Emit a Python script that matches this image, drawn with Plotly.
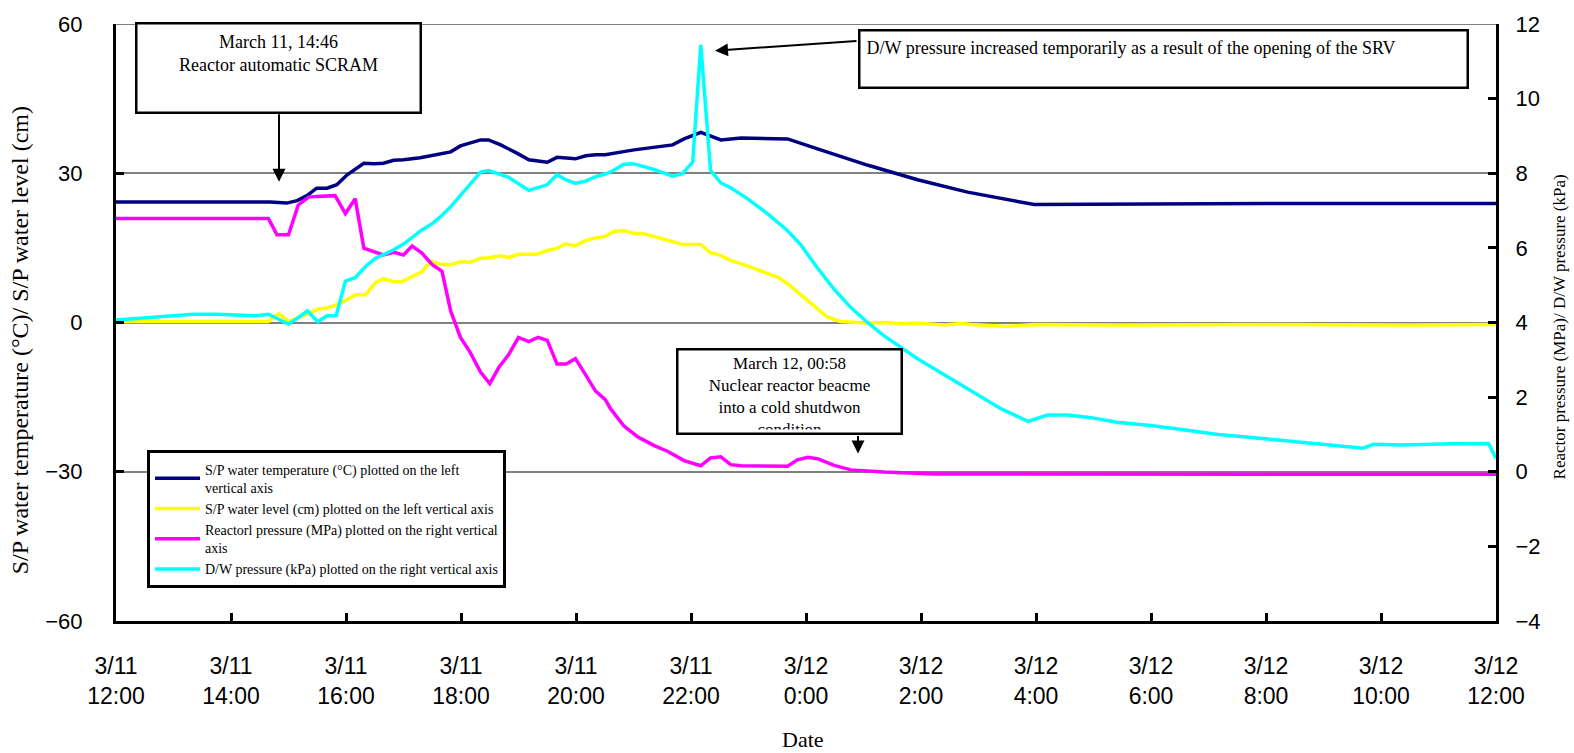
import plotly.graph_objects as go

# ---- time axis: hours after 3/11 12:00 ----
tick_hours = [0, 2, 4, 6, 8, 10, 12, 14, 16, 18, 20, 22, 24]
tick_labels = ["3/11<br>12:00", "3/11<br>14:00", "3/11<br>16:00", "3/11<br>18:00",
               "3/11<br>20:00", "3/11<br>22:00", "3/12<br>0:00", "3/12<br>2:00",
               "3/12<br>4:00", "3/12<br>6:00", "3/12<br>8:00", "3/12<br>10:00",
               "3/12<br>12:00"]

# S/P water temperature (°C), left axis
temp_h = [0, 2.68, 2.97, 3.15, 3.32, 3.49, 3.67, 3.84, 4.02, 4.31, 4.48, 4.65, 4.83,
          5.0, 5.29, 5.64, 5.82, 5.99, 6.16, 6.34, 6.48, 6.69, 6.98, 7.18, 7.5, 7.67,
          7.99, 8.17, 8.34, 8.51, 8.75, 9.01, 9.68, 9.88, 10.17, 10.34, 10.52, 10.87,
          11.68, 12.2, 13.08, 13.94, 14.81, 15.97, 17.48, 20.0, 24.0]
temp_c = [24.2, 24.2, 24.0, 24.5, 25.5, 27.0, 27.0, 27.7, 29.7, 32.0, 31.9, 32.0, 32.6,
          32.7, 33.1, 33.8, 34.3, 35.5, 36.0, 36.7, 36.7, 35.7, 34.0, 32.7, 32.2, 33.2,
          32.9, 33.5, 33.7, 33.7, 34.2, 34.7, 35.7, 36.9, 38.2, 37.5, 36.7, 37.1,
          36.9, 34.9, 31.6, 28.7, 26.2, 23.7, 23.8, 23.9, 23.9]

# S/P water level (cm), left axis
level_h = [0, 2.65, 2.83, 3.0, 3.32, 3.52, 3.67, 3.84, 4.02, 4.16, 4.34, 4.51, 4.65,
           4.83, 4.97, 5.15, 5.32, 5.47, 5.64, 5.82, 5.99, 6.16, 6.34, 6.48, 6.69, 6.83,
           7.0, 7.32, 7.5, 7.67, 7.82, 7.99, 8.17, 8.34, 8.51, 8.66, 8.83, 9.01, 9.15,
           9.36, 9.85, 10.17, 10.34, 10.49, 10.69, 10.98, 11.27, 11.53, 11.68, 12.03,
           12.37, 12.6, 12.84, 13.07, 13.42, 13.65, 13.89, 14.41, 14.7, 14.87, 15.51,
           15.97, 17.5, 20.0, 22.5, 24.0]
level_cm = [0.2, 0.2, 1.8, 0.2, 1.7, 2.7, 2.9, 3.6, 4.6, 5.6, 5.6, 8.0, 8.8,
            8.2, 8.2, 9.3, 10.2, 12.3, 11.7, 11.6, 12.2, 12.1, 12.9, 13.0, 13.4, 13.1,
            13.7, 13.7, 14.5, 14.9, 15.8, 15.4, 16.5, 17.0, 17.3, 18.3, 18.5, 17.9, 17.9,
            17.3, 15.7, 15.7, 14.0, 13.6, 12.5, 11.4, 10.1, 9.0, 7.8, 4.3,
            1.1, 0.2, 0.0, -0.1, 0.0, -0.3, -0.1, -0.5, -0.2, -0.4, -0.8,
            -0.4, -0.5, -0.4, -0.5, -0.4]

# Reactor pressure (MPa), right axis
rp_h = [0, 2.65, 2.8, 3.0, 3.17, 3.35, 3.49, 3.81, 3.99, 4.16, 4.31, 4.65, 4.83, 5.0,
        5.15, 5.32, 5.5, 5.67, 5.82, 5.99, 6.16, 6.34, 6.5, 6.66, 6.83, 7.0, 7.18, 7.34,
        7.5, 7.67, 7.83, 7.99, 8.17, 8.34, 8.51, 8.6, 8.83, 9.07, 9.36, 9.59, 9.88,
        10.17, 10.34, 10.52, 10.69, 10.87, 11.68, 11.85, 12.03, 12.2, 12.49, 12.78,
        13.36, 14.23, 24.0]
rp_mpa = [6.79, 6.79, 6.35, 6.35, 7.15, 7.36, 7.38, 7.40, 6.92, 7.32, 5.99, 5.81, 5.88, 5.81,
          6.05, 5.86, 5.55, 5.37, 4.31, 3.6, 3.2, 2.67, 2.36, 2.8, 3.14, 3.6, 3.49, 3.6,
          3.52, 2.89, 2.89, 3.03, 2.59, 2.16, 1.93, 1.69, 1.23, 0.94, 0.70, 0.55, 0.30,
          0.16, 0.37, 0.40, 0.19, 0.16, 0.15, 0.32, 0.39, 0.35, 0.17, 0.05,
          -0.01, -0.06, -0.07]

# D/W pressure (kPa), right axis
dw_h = [0, 0.48, 0.88, 1.35, 1.75, 2.04, 2.45, 2.65, 2.83, 3.0, 3.17, 3.33, 3.51, 3.67,
        3.83, 3.99, 4.16, 4.34, 4.51, 4.65, 4.83, 5.0, 5.18, 5.32, 5.5, 5.64, 5.82, 5.99,
        6.16, 6.34, 6.48, 6.66, 6.83, 7.0, 7.18, 7.5, 7.67, 7.83, 7.99, 8.17, 8.34, 8.51,
        8.66, 8.83, 9.01, 9.36, 9.68, 9.85, 10.03, 10.17, 10.34, 10.52, 10.69, 10.98,
        11.33, 11.68, 11.91, 12.2, 12.49, 12.78, 13.07, 13.36, 13.65, 13.94, 14.23, 14.7,
        15.04, 15.39, 15.86, 16.2, 16.55, 16.96, 17.43, 18.0, 18.59, 19.17, 19.75, 20.33,
        20.91, 21.32, 21.69, 21.87, 22.36, 23.23, 23.87, 24.0]
dw_kpa = [4.07, 4.13, 4.18, 4.22, 4.22, 4.20, 4.18, 4.22, 4.09, 3.96, 4.13, 4.31, 4.02, 4.18,
          4.18, 5.11, 5.20, 5.50, 5.72, 5.81, 5.95, 6.10, 6.30, 6.48, 6.65, 6.83, 7.10, 7.40,
          7.73, 8.03, 8.07, 7.98, 7.89, 7.72, 7.54, 7.69, 7.96, 7.82, 7.73, 7.79, 7.91, 7.98,
          8.08, 8.24, 8.25, 8.10, 7.92, 7.99, 8.30, 11.44, 8.08, 7.74, 7.61, 7.32,
          6.92, 6.46, 6.08, 5.46, 4.89, 4.40, 4.00, 3.64, 3.34, 3.03, 2.76, 2.32,
          2.00, 1.69, 1.35, 1.52, 1.52, 1.45, 1.32, 1.24, 1.12, 1.00, 0.92, 0.83,
          0.76, 0.68, 0.63, 0.74, 0.72, 0.75, 0.76, 0.36]

# ---- page geometry (pixels) ----
W, H = 1574, 753
L, R, T, B = 116, 78, 19, 132
PW, PH = W - L - R, H - T - B


def fx(px):
    return (px - L) / PW


def fy(py):
    return (T + PH - py) / PH


SERIF = "Liberation Serif"
SANS = "Liberation Sans"

fig = go.Figure()
fig.add_trace(go.Scatter(x=temp_h, y=temp_c, mode="lines", yaxis="y",
                         line=dict(color="#000080", width=3.5),
                         name="S/P water temperature (°C) plotted on the left<br>vertical axis",
                         legendgroup="a"))
fig.add_trace(go.Scatter(x=level_h, y=level_cm, mode="lines", yaxis="y",
                         line=dict(color="#FFFF00", width=3.5),
                         name="S/P water level (cm) plotted on the left vertical axis",
                         legendgroup="b"))
fig.add_trace(go.Scatter(x=rp_h, y=rp_mpa, mode="lines", yaxis="y2",
                         line=dict(color="#FF00FF", width=3.5),
                         name="Reactorl pressure (MPa) plotted on the right vertical<br>axis",
                         legendgroup="c"))
fig.add_trace(go.Scatter(x=dw_h, y=dw_kpa, mode="lines", yaxis="y2",
                         line=dict(color="#00FFFF", width=3.5),
                         name="D/W pressure (kPa) plotted on the right vertical axis",
                         legendgroup="d"))

box = dict(xref="paper", yref="paper", showarrow=False, bgcolor="white",
           bordercolor="black", borderwidth=2.5, font=dict(family=SERIF, size=18, color="black"))
arrow = dict(xref="paper", yref="paper", text="", showarrow=True, arrowhead=2,
             arrowsize=1.3, arrowwidth=2, arrowcolor="black", standoff=0)

annotations = [
    # SCRAM note
    dict(box, x=fx(135), y=fy(17), xanchor="left", yanchor="top",
         width=267, height=72, borderpad=7.5, align="center", valign="top",
         text="March 11, 14:46<br>Reactor automatic SCRAM"),
    dict(arrow, x=fx(279), y=fy(178), ax=0, ay=-69),
    # SRV note
    dict(box, x=fx(858), y=fy(24), xanchor="left", yanchor="top",
         width=594, height=43, borderpad=6, align="left", valign="top",
         text="D/W pressure increased temporarily as a result of the opening of the SRV"),
    dict(arrow, x=fx(715), y=fy(46), ax=143, ay=-10),
    # cold shutdown note (last line partly hidden by the box edge)
    dict(box, x=fx(676), y=fy(346), xanchor="left", yanchor="top",
         width=216, height=76, borderpad=3, align="center", valign="top",
         font=dict(family=SERIF, size=17, color="black"),
         text="March 12, 00:58<br>Nuclear reactor beacme<br>into a cold shutdwon<br>condition"),
    dict(arrow, x=fx(858), y=fy(452), ax=0, ay=-19),
    # axis titles
    dict(xref="paper", yref="paper", x=fx(20), y=fy(338), showarrow=False, textangle=-90,
         xanchor="center", yanchor="middle",
         text="S/P water temperature (°C)/ S/P water level (cm)",
         font=dict(family=SERIF, size=24, color="black")),
    dict(xref="paper", yref="paper", x=fx(1559), y=fy(325), showarrow=False, textangle=-90,
         xanchor="center", yanchor="middle",
         text="Reactor pressure (MPa)/ D/W pressure (kPa)",
         font=dict(family=SERIF, size=17, color="black")),
    dict(xref="paper", yref="paper", x=fx(803), y=fy(740), showarrow=False,
         xanchor="center", yanchor="middle", text="Date",
         font=dict(family=SERIF, size=22, color="black")),
]

# grid line along the top of the plot at 60
shapes = [dict(type="line", xref="paper", yref="y", x0=0, x1=1, y0=60, y1=60,
               line=dict(color="#808080", width=2), layer="below")]

fig.update_layout(
    width=W, height=H,
    margin=dict(l=L, r=R, t=T, b=B, pad=0),
    paper_bgcolor="white", plot_bgcolor="white",
    showlegend=True,
    legend=dict(x=fx(147), y=fy(449), xanchor="left", yanchor="top",
                bgcolor="white", bordercolor="black", borderwidth=3,
                font=dict(family=SERIF, size=14, color="black"),
                itemwidth=45, tracegroupgap=5, traceorder="normal",
                entrywidth=330, entrywidthmode="pixels"),
    xaxis=dict(range=[0, 24], tickvals=tick_hours, ticktext=tick_labels,
               showgrid=False, zeroline=False, showline=True, linecolor="black",
               linewidth=3, ticks="inside", ticklen=8, tickwidth=3, tickcolor="black",
               tickfont=dict(family=SANS, size=23, color="black"), ticklabelstandoff=22),
    yaxis=dict(range=[-60, 60], tickvals=[-60, -30, 0, 30, 60],
               showgrid=True, gridcolor="#808080", gridwidth=2, zeroline=False,
               showline=True, linecolor="black", linewidth=3,
               ticks="inside", ticklen=8, tickwidth=3, tickcolor="black",
               tickfont=dict(family=SANS, size=22, color="black"), ticklabelstandoff=26),
    yaxis2=dict(range=[-4, 12], tickvals=[-4, -2, 0, 2, 4, 6, 8, 10, 12],
                overlaying="y", side="right", showgrid=False, zeroline=False,
                showline=True, linecolor="black", linewidth=3,
                ticks="inside", ticklen=8, tickwidth=3, tickcolor="black",
                tickfont=dict(family=SANS, size=22, color="black"), ticklabelstandoff=12),
    annotations=annotations,
    shapes=shapes,
)

fig.write_html("out.html")
